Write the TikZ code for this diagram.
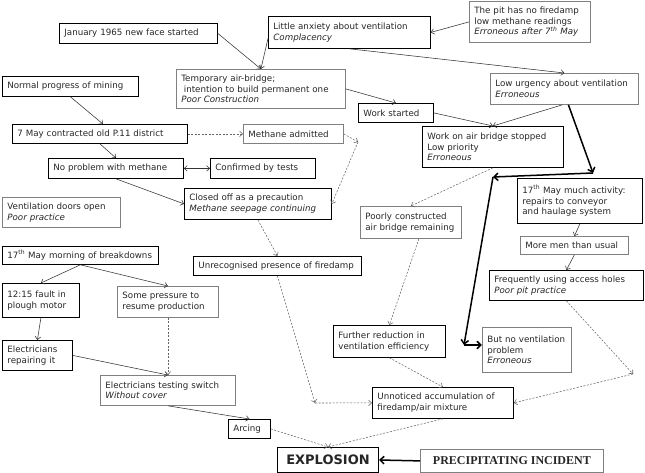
\documentclass[tikz,border=0pt]{standalone}
\usepackage{fontspec}
\setmainfont{DejaVu Sans}
\newfontfamily\precipfont{Liberation Serif}
\usetikzlibrary{arrows.meta}

\tikzset{
  blk/.style={draw=black, line width=0.8pt, anchor=north west, align=left,
    inner xsep=5pt, inner ysep=2pt, text=black!85,
    font=\fontsize{8.7}{10.7}\selectfont},
  gry/.style={blk, draw=black!50},
  arr/.style={-{Straight Barb[length=3pt,width=5.5pt]}, line width=0.55pt, black!80},
  darr/.style={arr, black!60, dash pattern=on 2pt off 1.5pt},
  tarr/.style={-{Straight Barb[length=4pt,width=7.5pt]}, line width=1.5pt, black},
}

\begin{document}
\begin{tikzpicture}[x=1pt,y=-1pt]
\path (0,0) -- (645,473);
\node[blk, text width=148pt, minimum height=20pt] (jan) at (59,23) {January 1965 new face started};
\node[blk, text width=152pt, minimum height=32pt] (anx) at (268,16) {Little anxiety about ventilation\\\textit{Complacency}};
\node[gry, text width=111pt, minimum height=41pt] (pit) at (469,1) {The pit has no firedamp\\low methane readings\\\textit{Erroneous after 7\textsuperscript{th} May}};
\node[blk, text width=126pt, minimum height=20pt] (normal) at (2,76) {Normal progress of mining};
\node[gry, text width=159pt, minimum height=39pt] (temp) at (176,69) {Temporary air-bridge;\\\hspace*{2.5pt}intention to build permanent one\\\textit{Poor Construction}};
\node[gry, text width=138pt, minimum height=31pt] (urg) at (490,73) {Low urgency about ventilation\\\textit{Erroneous}};
\node[blk, text width=65pt, minimum height=19pt] (work) at (358,103) {Work started};
\node[blk, text width=165pt, minimum height=19pt] (may7) at (12,124) {7 May contracted old P.11 district};
\node[gry, text width=90pt, minimum height=19pt] (methane) at (243,124) {Methane admitted};
\node[blk, text width=131pt, minimum height=41pt] (stop) at (422,126) {Work on air bridge stopped\\Low priority\\\textit{Erroneous}};
\node[blk, text width=125pt, minimum height=20pt] (noprob) at (48,158) {No problem with methane};
\node[blk, text width=95pt, minimum height=20pt] (conf) at (210,158) {Confirmed by tests};
\node[blk, text width=137pt, minimum height=31pt] (closed) at (184,188) {Closed off as a precaution\\\textit{Methane seepage continuing}};
\node[gry, text width=108pt, minimum height=30pt] (vent) at (2,197) {Ventilation doors open\\\textit{Poor practice}};
\node[blk, text width=158pt, minimum height=19pt] (firedamp) at (193,256) {Unrecognised presence of firedamp};
\node[gry, text width=91pt, minimum height=32pt] (poorly) at (360,206) {Poorly constructed\\air bridge remaining};
\node[blk, text width=115pt, minimum height=45pt] (act) at (517,178) {17\textsuperscript{th} May much activity:\\repairs to conveyor\\and haulage system};
\node[gry, text width=98pt, minimum height=18pt] (men) at (520,236) {More men than usual};
\node[blk, text width=144pt, minimum height=30pt] (freq) at (489,270) {Frequently using access holes\\\textit{Poor pit practice}};
\node[blk, text width=146pt, minimum height=18pt] (breakdown) at (2,246) {17\textsuperscript{th} May morning of breakdowns};
\node[blk, text width=67pt, minimum height=34pt] (fault) at (2,283) {12:15 fault in\\plough motor};
\node[gry, text width=91pt, minimum height=31pt] (pressure) at (117,286) {Some pressure to\\resume production};
\node[blk, text width=60pt, minimum height=30pt] (elec) at (2,340) {Electricians\\repairing it};
\node[gry, text width=125pt, minimum height=30pt] (test) at (100,375) {Electricians testing switch\\\textit{Without cover}};
\node[blk, text width=32pt, minimum height=19pt] (arcing) at (228,419) {Arcing};
\node[blk, text width=102pt, minimum height=32pt] (furth) at (333,325) {Further reduction in\\ventilation efficiency};
\node[gry, text width=79pt, minimum height=45pt] (butno) at (482,327) {But no ventilation\\problem\\\textit{Erroneous}};
\node[blk, text width=131pt, minimum height=31pt] (accum) at (372,387) {Unnoticed accumulation of\\firedamp/air mixture};
\node[blk, align=center, line width=1pt, minimum width=101pt, minimum height=25pt, font=\fontsize{13}{15}\selectfont\bfseries] (explosion) at (277,447) {EXPLOSION};
\node[gry, align=center, minimum width=183pt, minimum height=23pt, font=\precipfont\fontsize{12}{14}\selectfont\bfseries] (precip) at (420,449) {PRECIPITATING INCIDENT};
\coordinate (k1) at (593,173);
\coordinate (k2) at (493,177);
\coordinate (k3) at (464,345);
\coordinate (m1) at (358,142);
\coordinate (a1) at (315,403);
\coordinate (c1) at (633,374);
\draw[arr] (jan.east) -- (temp.north);
\draw[arr] ([yshift=-6pt]anx.west) -- (temp.north);
\draw[arr] (pit.west) -- (anx.east);
\draw[arr] (anx.south) -- (urg.north);
\draw[arr] (temp.east) -- (work.north);
\draw[arr] (work.east) -- (stop.north);
\draw[arr] ([xshift=-2pt]urg.south) -- (stop.north);
\draw[tarr] ([xshift=4pt]urg.south) -- (k1);
\draw[tarr] (k1) -- (k2);
\draw[tarr] (k2) -- (k3);
\draw[tarr] (k3) -- (k3 -| butno.west);
\draw[arr] (normal.south) -- ([xshift=3pt]may7.north);
\draw[darr] (may7.east) -- (methane.west);
\draw[arr] (may7.south) -- (noprob.north);
\draw[arr, {Straight Barb[length=3pt,width=5.5pt]}-{Straight Barb[length=3pt,width=5.5pt]}] (noprob.east) -- (conf.west);
\draw[arr] (noprob.south) -- (closed.west);
\draw[darr] (methane.east) -- (m1);
\draw[darr] (m1) -- (closed.east);
\draw[darr] (closed.south) -- (firedamp.north);
\draw[darr] (firedamp.south) -- (a1);
\draw[darr] (a1) -- (accum.west);
\draw[darr] (stop.south) -- (poorly.north);
\draw[darr] ([xshift=8pt]poorly.south) -- (furth.north);
\draw[darr] (furth.south) -- (accum.north);
\draw[arr] (act.south) -- (men.north);
\draw[arr] (men.south) -- (freq.north);
\draw[darr] (freq.south) -- (c1);
\draw[darr] (c1) -- (accum.east);
\draw[arr] (breakdown.south) -- (fault.north);
\draw[arr] (breakdown.south) -- (pressure.north);
\draw[arr] (fault.south) -- (elec.north);
\draw[arr] (elec.east) -- (test.north);
\draw[darr] (pressure.south) -- (test.north);
\draw[arr] (test.south) -- (arcing.north);
\draw[darr] (arcing.east) -- (explosion.north);
\draw[darr] (accum.south) -- (explosion.north);
\draw[tarr] (precip.west) -- (explosion.east);
\end{tikzpicture}
\end{document}
